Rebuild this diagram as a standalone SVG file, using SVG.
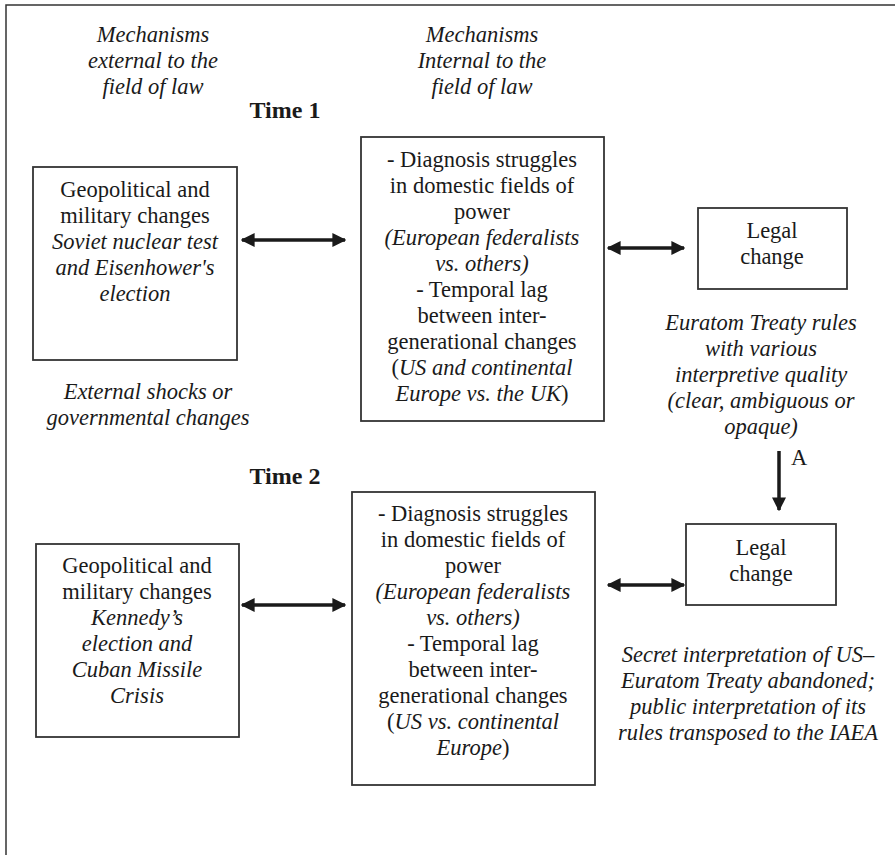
<svg xmlns="http://www.w3.org/2000/svg" width="895" height="855" viewBox="0 0 895 855">
<style>
text{font-family:"Liberation Serif","Times New Roman",serif;font-size:22.5px;fill:#1a1a1a;text-anchor:middle}
.i{font-style:italic}
.b{font-weight:bold;font-size:24px}
.box{fill:#fff;stroke:#333;stroke-width:1.8}
.con{stroke:#1a1a1a;stroke-width:3.5;fill:none}
</style>
<defs>
<marker id="ah" viewBox="0 0 10 10" refX="9" refY="5" markerWidth="4" markerHeight="4" orient="auto-start-reverse" markerUnits="strokeWidth">
<path d="M0,0 L10,5 L0,10 z" fill="#1a1a1a"/>
</marker>
</defs>
<rect width="895" height="855" fill="#fff"/>
<path d="M6,855 V5 H895" fill="none" stroke="#333" stroke-width="1.5"/>

<g id="labels">
<text class="i" x="153" y="42">Mechanisms</text>
<text class="i" x="153" y="68">external to the</text>
<text class="i" x="153" y="94">field of law</text>
<text class="i" x="482" y="42">Mechanisms</text>
<text class="i" x="482" y="68">Internal to the</text>
<text class="i" x="482" y="94">field of law</text>
<text class="b" x="285" y="118">Time 1</text>
<text class="b" x="285" y="484">Time 2</text>
<text class="i" x="148" y="399">External shocks or</text>
<text class="i" x="148" y="425">governmental changes</text>
<text class="i" x="761" y="330">Euratom Treaty rules</text>
<text class="i" x="761" y="356">with various</text>
<text class="i" x="761" y="382">interpretive quality</text>
<text class="i" x="761" y="408">(clear, ambiguous or</text>
<text class="i" x="761" y="434">opaque)</text>
<text class="i" x="748" y="662">Secret interpretation of US–</text>
<text class="i" x="748" y="688">Euratom Treaty abandoned;</text>
<text class="i" x="748" y="714">public interpretation of its</text>
<text class="i" x="748" y="740">rules transposed to the IAEA</text>
<text x="799" y="465">A</text>
</g>

<g id="geo1">
<rect class="box" x="33" y="167" width="204" height="193"/>
<text x="135" y="197">Geopolitical and</text>
<text x="135" y="223">military changes</text>
<text class="i" x="135" y="249">Soviet nuclear test</text>
<text class="i" x="135" y="275">and Eisenhower's</text>
<text class="i" x="135" y="301">election</text>
</g>

<g id="internal1">
<rect class="box" x="361" y="137" width="243" height="284"/>
<text x="482" y="167">- Diagnosis struggles</text>
<text x="482" y="193">in domestic fields of</text>
<text x="482" y="219">power</text>
<text class="i" x="482" y="245">(European federalists</text>
<text class="i" x="482" y="271">vs. others)</text>
<text x="482" y="297">- Temporal lag</text>
<text x="482" y="323">between inter-</text>
<text x="482" y="349">generational changes</text>
<text x="482" y="375">(<tspan class="i">US and continental</tspan></text>
<text x="482" y="401"><tspan class="i">Europe vs. the UK</tspan>)</text>
</g>

<g id="legal1">
<rect class="box" x="698" y="208" width="149" height="81"/>
<text x="772" y="238">Legal</text>
<text x="772" y="264">change</text>
</g>

<g id="geo2">
<rect class="box" x="36" y="544" width="203" height="193"/>
<text x="137" y="573">Geopolitical and</text>
<text x="137" y="599">military changes</text>
<text class="i" x="137" y="625">Kennedy’s</text>
<text class="i" x="137" y="651">election and</text>
<text class="i" x="137" y="677">Cuban Missile</text>
<text class="i" x="137" y="703">Crisis</text>
</g>

<g id="internal2">
<rect class="box" x="352" y="492" width="243" height="293"/>
<text x="473" y="521">- Diagnosis struggles</text>
<text x="473" y="547">in domestic fields of</text>
<text x="473" y="573">power</text>
<text class="i" x="473" y="599">(European federalists</text>
<text class="i" x="473" y="625">vs. others)</text>
<text x="473" y="651">- Temporal lag</text>
<text x="473" y="677">between inter-</text>
<text x="473" y="703">generational changes</text>
<text x="473" y="729">(<tspan class="i">US vs. continental</tspan></text>
<text x="473" y="755"><tspan class="i">Europe</tspan>)</text>
</g>

<g id="legal2">
<rect class="box" x="686" y="524" width="150" height="81"/>
<text x="761" y="555">Legal</text>
<text x="761" y="581">change</text>
</g>

<g id="connectors">
<line class="con" x1="242" y1="240" x2="345" y2="240" marker-start="url(#ah)" marker-end="url(#ah)"/>
<line class="con" x1="608" y1="248" x2="684" y2="248" marker-start="url(#ah)" marker-end="url(#ah)"/>
<line class="con" x1="242" y1="605" x2="345" y2="605" marker-start="url(#ah)" marker-end="url(#ah)"/>
<line class="con" x1="608" y1="585" x2="684" y2="585" marker-start="url(#ah)" marker-end="url(#ah)"/>
<line class="con" x1="779" y1="451" x2="779" y2="510" marker-end="url(#ah)"/>
</g>
</svg>
